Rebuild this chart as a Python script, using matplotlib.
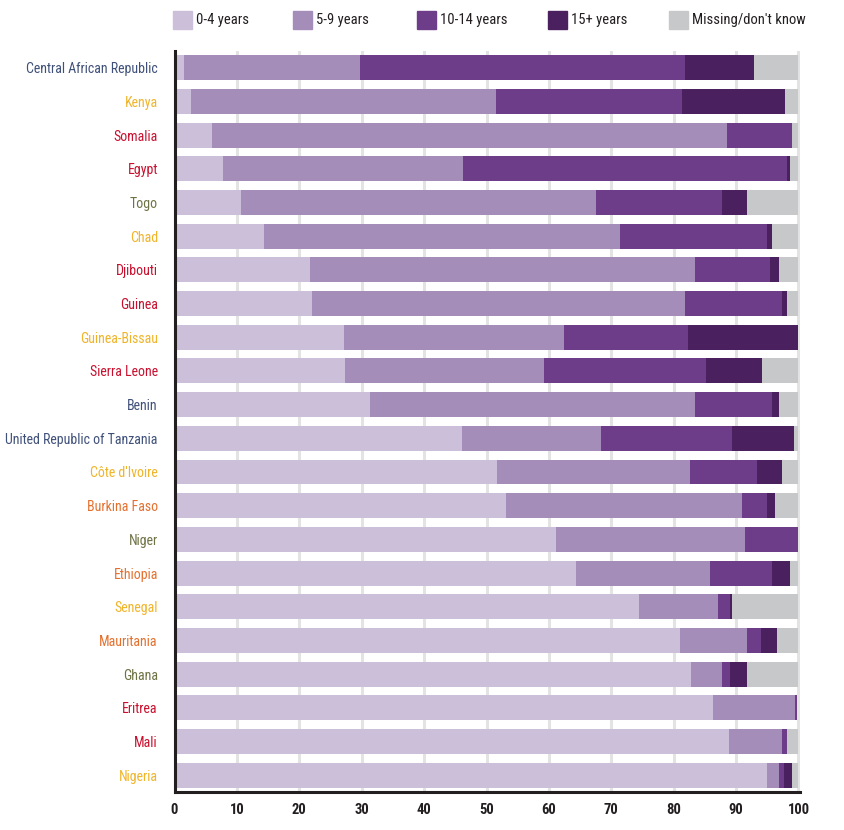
import matplotlib.pyplot as plt
import numpy as np
from matplotlib.patches import Rectangle

# countries, top to bottom
countries = ['Central African Republic', 'Kenya', 'Somalia', 'Egypt', 'Togo', 'Chad',
             'Djibouti', 'Guinea', 'Guinea-Bissau', 'Sierra Leone', 'Benin',
             'United Republic of Tanzania', "Côte d'Ivoire", 'Burkina Faso', 'Niger',
             'Ethiopia', 'Senegal', 'Mauritania', 'Ghana', 'Eritrea', 'Mali', 'Nigeria']

# percent of women cut, by age at cutting
age_0_4 = [1.5, 2.6, 6.0, 7.8, 10.6, 14.3, 21.7, 22.0, 27.1, 27.4, 31.3,
           46.0, 51.7, 53.2, 61.2, 64.3, 74.4, 81.0, 82.8, 86.3, 88.8, 95.0]
age_5_9 = [28.2, 49.0, 82.5, 38.5, 56.9, 57.1, 61.7, 59.8, 35.3, 31.8, 52.1,
           22.3, 30.9, 37.7, 30.2, 21.6, 12.7, 10.8, 4.9, 13.2, 8.5, 1.9]
age_10_14 = [52.1, 29.7, 10.5, 51.8, 20.2, 23.5, 12.1, 15.5, 19.9, 25.9, 12.4,
             21.0, 10.8, 4.0, 8.6, 9.8, 2.0, 2.2, 1.3, 0.3, 0.9, 0.8]
age_15_plus = [11.0, 16.5, 0.0, 0.5, 4.0, 0.8, 1.4, 0.8, 17.7, 9.1, 1.1,
               10.0, 3.9, 1.3, 0.0, 3.0, 0.3, 2.5, 2.7, 0.0, 0.0, 1.3]
missing = [7.2, 2.2, 1.0, 1.4, 8.3, 4.3, 3.1, 1.9, 0.0, 5.8, 3.1,
           0.7, 2.7, 3.8, 0.0, 1.3, 10.6, 3.5, 8.3, 0.0, 1.8, 1.0]

series_labels = ['0-4 years', '5-9 years', '10-14 years', '15+ years', 'Missing/don\'t know']
series_colors = ['#cbbfd9', '#a48eb9', '#6d3d89', '#4a205e', '#c7c8c9']

# region colour of each country name
blue, gold, red, olive, orange = '#3f5079', '#f0b429', '#c8102e', '#6f7244', '#e4702e'
label_colors = [blue, gold, red, red, olive, gold, red, red, gold, red, blue,
                blue, gold, orange, olive, orange, gold, orange, olive, red, red, gold]

narrow = ['Roboto Condensed', 'DejaVu Sans']

fig = plt.figure(figsize=(8.44, 8.30), dpi=100)
ax = fig.add_axes([0.2068, 0.0458, 0.7411, 0.8928])

y = np.arange(len(countries))
left = np.zeros(len(countries))
for vals, col in zip([age_0_4, age_5_9, age_10_14, age_15_plus, missing], series_colors):
    ax.barh(y, vals, left=left, height=0.74, color=col, zorder=3)
    left += np.array(vals)

ax.set_ylim(len(countries) - 0.5, -0.5)
ax.set_xlim(0, 100.25)
ax.set_xticks(np.arange(0, 101, 10))
ax.set_yticks(y)
ax.set_yticklabels(countries)
for lab, c in zip(ax.get_yticklabels(), label_colors):
    lab.set_color(c)
    lab.set_fontfamily(narrow)
    lab.set_fontsize(10)
for lab in ax.get_xticklabels():
    lab.set_fontfamily(narrow)
    lab.set_fontweight('bold')
    lab.set_fontsize(10.5)
    lab.set_color('#231f20')

ax.tick_params(axis='both', length=0)
ax.tick_params(axis='y', pad=12)
ax.tick_params(axis='x', pad=8)
ax.xaxis.grid(True, color='#e3e3e3', linewidth=2.2, zorder=0)
ax.set_axisbelow(True)
for s in ['top', 'right']:
    ax.spines[s].set_visible(False)
for s in ['left', 'bottom']:
    ax.spines[s].set_color('#231f20')
    ax.spines[s].set_linewidth(2.2)
    ax.spines[s].set_zorder(4)

# legend along the top
leg_x = [173, 293, 417, 548, 669]
for lx, lab, col in zip(leg_x, series_labels, series_colors):
    fig.patches.append(Rectangle((lx / 844, 1 - 29 / 830), 19 / 844, 18 / 830,
                                 transform=fig.transFigure, color=col))
    fig.text((lx + 23) / 844, 1 - 20 / 830, lab, fontfamily=narrow, fontsize=10.5,
             color='#231f20', va='center', ha='left')

fig.savefig('out.png', dpi=100)
